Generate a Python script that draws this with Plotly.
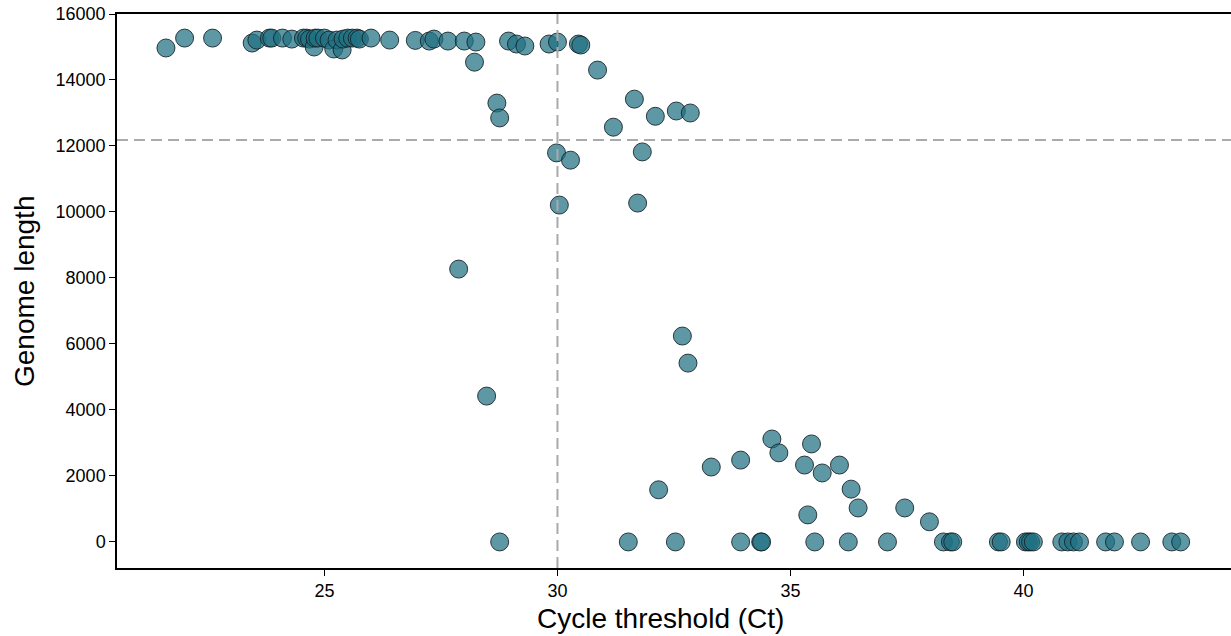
import plotly.graph_objects as go

# Cycle threshold (Ct) values and genome lengths
ct = [21.6, 22.0, 22.6, 23.45, 23.55, 23.82, 23.87, 24.1, 24.3, 24.55, 24.62,
      24.68, 24.78, 24.8, 24.86, 25.0, 25.1, 25.2, 25.27, 25.38, 25.4, 25.5,
      25.6, 25.7, 25.75, 26.0, 26.4, 26.95, 27.25, 27.35, 27.65, 28.0, 28.25,
      28.22, 28.7, 28.76, 28.95, 29.12, 29.3, 29.82, 30.0, 30.45, 30.5, 30.86,
      31.2, 31.65, 32.1, 32.55, 32.85, 29.98, 30.28, 31.82, 30.04, 31.72,
      27.88, 32.68, 32.8, 28.48, 34.6, 34.75, 35.45, 33.3, 33.93, 35.3, 35.68,
      36.05, 36.3, 36.45, 32.17, 35.37, 37.45, 37.98,
      28.76, 31.52, 32.53, 33.93, 34.36, 34.38, 35.52, 36.24, 37.08, 38.28,
      38.43, 38.48, 39.46, 39.52, 40.04, 40.1, 40.15, 40.21, 40.82, 40.95,
      41.07, 41.2, 41.76, 41.95, 42.51, 43.18, 43.37]
genome = [14970, 15270, 15270, 15120, 15210, 15270, 15270, 15270, 15240, 15270,
          15270, 15240, 15000, 15270, 15270, 15270, 15210, 14940, 15210, 14910,
          15240, 15270, 15270, 15270, 15240, 15270, 15210, 15200, 15180, 15240,
          15180, 15180, 15150, 14540, 13300, 12850, 15180, 15090, 15030, 15090,
          15150, 15090, 15060, 14300, 12570, 13420, 12900, 13060, 13000, 11790,
          11570, 11820, 10210, 10270, 8270, 6240, 5420, 4420, 3120, 2700, 2970,
          2270, 2480, 2330, 2090, 2330, 1600, 1030, 1580, 820, 1030, 610,
          0, 0, 0, 0, 0, 0, 0, 0, 0, 0,
          0, 0, 0, 0, 0, 0, 0, 0, 0, 0,
          0, 0, 0, 0, 0, 0, 0]

ct_threshold = 30.0
length_threshold = 12180

x_ticks = [25, 30, 35, 40]
y_ticks = [0, 2000, 4000, 6000, 8000, 10000, 12000, 14000, 16000]

fig = go.Figure()
fig.add_trace(go.Scatter(
    x=ct, y=genome, mode="markers",
    marker=dict(size=18, color="rgba(32,112,130,0.72)",
                line=dict(color="rgba(20,30,35,0.85)", width=1)),
    showlegend=False, hoverinfo="x+y"))

fig.add_vline(x=ct_threshold, line=dict(color="#aaaaaa", width=2, dash="11px,6px"))
fig.add_hline(y=length_threshold, line=dict(color="#aaaaaa", width=2, dash="11px,6px"))

font_family = "Liberation Sans, Arial, Helvetica, sans-serif"
fig.update_layout(
    width=1231, height=636,
    margin=dict(l=117, r=0, t=14, b=68),
    plot_bgcolor="white", paper_bgcolor="white",
    font=dict(family=font_family, color="black", size=18),
    xaxis=dict(range=[20.55, 44.45], tickvals=x_ticks, ticks="outside",
               ticklen=6, tickwidth=1.3, tickcolor="black",
               showline=True, linecolor="black", linewidth=1.5, mirror=True,
               showgrid=False, zeroline=False, tickfont=dict(size=18)),
    yaxis=dict(range=[-790, 16000], tickvals=y_ticks,
               ticktext=[str(v) for v in y_ticks], ticks="outside",
               ticklen=6, tickwidth=1.3, tickcolor="black",
               showline=True, linecolor="black", linewidth=1.5,
               showgrid=False, zeroline=False, tickfont=dict(size=18)),
    annotations=[
        dict(text="Cycle threshold (Ct)", xref="paper", yref="paper",
             x=(660 - 117) / (1231 - 117),
             y=0, yshift=-50, xanchor="center", yanchor="middle",
             showarrow=False, font=dict(size=28)),
        dict(text="Genome length", xref="paper", yref="paper",
             x=0, xshift=-93, y=(568 - 292) / (568 - 14),
             xanchor="center", yanchor="middle", textangle=-90,
             showarrow=False, font=dict(size=28)),
    ],
)

fig.write_html("out.html", config={"displayModeBar": False},
               post_script="document.body.style.margin='0';document.body.style.overflow='hidden';")
